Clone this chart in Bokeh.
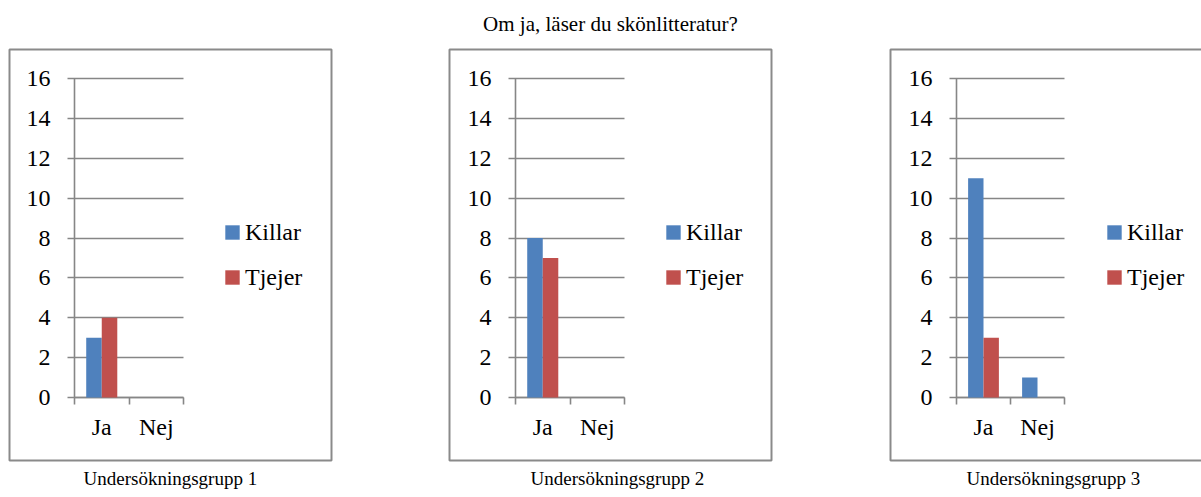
from bokeh.plotting import figure
from bokeh.models import (Range1d, FixedTicker, Legend, LegendItem, BoxAnnotation,
                          Title, ColumnDataSource, Div)
from bokeh.transform import dodge
from bokeh.layouts import row, column
from bokeh.embed import file_html
from bokeh.resources import INLINE

# ---------------- data ----------------
title_text = "Om ja, läser du skönlitteratur?"
categories = ["Ja", "Nej"]
series_names = ["Killar", "Tjejer"]
group_titles = ["Undersökningsgrupp 1", "Undersökningsgrupp 2", "Undersökningsgrupp 3"]
killar_g1 = [3, 0]
tjejer_g1 = [4, 0]
killar_g2 = [8, 0]
tjejer_g2 = [7, 0]
killar_g3 = [11, 1]
tjejer_g3 = [3, 0]
y_ticks = [0, 2, 4, 6, 8, 10, 12, 14, 16]

groups = [(killar_g1, tjejer_g1), (killar_g2, tjejer_g2), (killar_g3, tjejer_g3)]

# ---------------- style / layout (page pixels) ----------------
BLUE = "#4f81bd"
RED = "#c0504d"
GRID = "#868686"
BOX = "#8a8a8a"
FONT = "Liberation Serif"

PAGE_W, PAGE_H = 1201, 497
TITLE_H = 40
TITLE_SHIFT = 20                  # title is centred over the middle panel
Y0_PX, YTOP_PX = 397, 78          # pixel rows of value 0 and of the top tick
BOX_TOP, BOX_BOTTOM = 49, 460
panels = [
    dict(fig_left=0,   fig_right=390,  axis_x=74,  inner_w=109, box_left=9,   box_right=331, sub_left=83),
    dict(fig_left=390, fig_right=830,  axis_x=515, inner_w=109, box_left=449, box_right=771, sub_left=530),
    dict(fig_left=830, fig_right=1201, axis_x=956, inner_w=108, box_left=890, box_right=1212, sub_left=966),
]
YMAX = y_ticks[-1]
NCAT = len(categories)
BAR_W = 0.285
cat_pos = [k + 0.5 for k in range(NCAT)]       # category centres on the x scale
PAD = 3

figs = []
for i, (pan, (kil, tje)) in enumerate(zip(panels, groups)):
    def xd(px, pan=pan):
        return (px - pan["axis_x"]) / pan["inner_w"] * NCAT

    def yd(py):
        return (Y0_PX - py) / (Y0_PX - YTOP_PX) * YMAX

    fr_left = pan["box_left"] - PAD
    fr_right = min(pan["box_right"] + PAD, pan["fig_right"])
    fr_top = BOX_TOP - PAD
    fr_bottom = BOX_BOTTOM + PAD
    width = pan["fig_right"] - pan["fig_left"]
    height = PAGE_H - TITLE_H

    p = figure(width=width, height=height,
               x_range=Range1d(xd(fr_left), xd(fr_right)),
               y_range=Range1d(yd(fr_bottom), yd(fr_top)),
               output_backend="svg", toolbar_location=None,
               min_border_left=fr_left - pan["fig_left"],
               min_border_right=pan["fig_right"] - fr_right,
               min_border_top=fr_top - TITLE_H,
               min_border_bottom=PAGE_H - fr_bottom)
    p.outline_line_color = None
    p.background_fill_color = "white"
    p.border_fill_color = "white"
    p.xgrid.visible = False
    p.ygrid.visible = False

    # y axis, its ticks reach across the plot as the horizontal grid lines
    yax = p.yaxis[0]
    yax.fixed_location = 0
    yax.bounds = (0, YMAX)
    yax.ticker = FixedTicker(ticks=y_ticks)
    yax.axis_line_color = GRID
    yax.axis_line_width = 1.6
    yax.major_tick_line_color = GRID
    yax.major_tick_line_width = 1.6
    yax.major_tick_out = 7
    yax.major_tick_in = pan["inner_w"]
    yax.minor_tick_line_color = None
    yax.major_label_text_font = FONT
    yax.major_label_text_font_size = "24px"
    yax.major_label_text_color = "black"
    yax.major_label_standoff = 17
    yax.level = "underlay"

    # x axis: labels at category centres, ticks at category edges
    xax = p.xaxis[0]
    xax.fixed_location = 0
    xax.bounds = (0, NCAT)
    xax.ticker = FixedTicker(ticks=cat_pos, minor_ticks=list(range(NCAT + 1)))
    xax.major_label_overrides = {c: lab for c, lab in zip(cat_pos, categories)}
    xax.axis_line_color = GRID
    xax.axis_line_width = 1.6
    xax.major_tick_line_color = None
    xax.major_tick_out = 0
    xax.major_tick_in = 0
    xax.minor_tick_line_color = GRID
    xax.minor_tick_line_width = 1.6
    xax.minor_tick_out = 7
    xax.minor_tick_in = 0
    xax.major_label_text_font = FONT
    xax.major_label_text_font_size = "24px"
    xax.major_label_text_color = "black"
    xax.major_label_standoff = 9
    xax.level = "underlay"

    src = ColumnDataSource(dict(pos=cat_pos, cat=categories, killar=kil, tjejer=tje))
    r1 = p.vbar(x=dodge("pos", -BAR_W / 2), top="killar", width=BAR_W,
                source=src, fill_color=BLUE, line_color=None)
    r2 = p.vbar(x=dodge("pos", BAR_W / 2), top="tjejer", width=BAR_W,
                source=src, fill_color=RED, line_color=None)

    legend = Legend(items=[LegendItem(label=series_names[0], renderers=[r1]),
                           LegendItem(label=series_names[1], renderers=[r2])],
                    location=(pan["axis_x"] + 149 - fr_left, fr_bottom - 292),
                    label_text_font=FONT, label_text_font_size="24px",
                    label_text_color="black",
                    glyph_width=18, glyph_height=18, label_standoff=4,
                    spacing=15, label_height=30, padding=0, margin=0,
                    border_line_color=None, background_fill_alpha=0)
    p.add_layout(legend)

    box = BoxAnnotation(left=xd(pan["box_left"]), right=xd(pan["box_right"]),
                        bottom=yd(BOX_BOTTOM), top=yd(BOX_TOP),
                        fill_color=None, fill_alpha=0,
                        line_color=BOX, line_alpha=1.0, line_width=2)
    p.add_layout(box)

    sub = Title(text=group_titles[i], align="left", offset=pan["sub_left"] - fr_left,
                vertical_align="top", standoff=9,
                text_font=FONT, text_font_size="19px", text_font_style="normal",
                text_color="black")
    p.add_layout(sub, "below")

    figs.append(p)

title_div = Div(
    text=(f'<div style="box-sizing:border-box;width:{PAGE_W}px;'
          f'padding:12px 0 0 {TITLE_SHIFT}px;text-align:center;">{title_text}</div>'),
    width=PAGE_W, height=TITLE_H, margin=0,
    styles={"font-family": "'Liberation Serif', serif", "font-size": "21px",
            "color": "black", "white-space": "nowrap", "line-height": "normal",
            "width": f"{PAGE_W}px"},
)

layout = column(title_div, row(*figs))
open("out.html", "w").write(file_html(layout, INLINE))
